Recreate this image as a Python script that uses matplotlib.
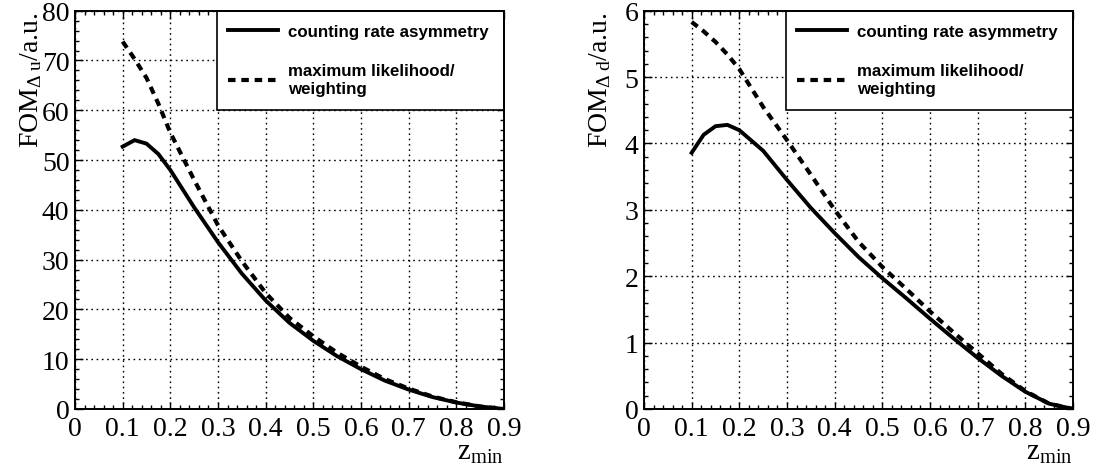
import matplotlib
matplotlib.use('Agg')
import matplotlib.pyplot as plt
from matplotlib.ticker import MultipleLocator, AutoMinorLocator
from matplotlib.patches import Rectangle

plt.rcParams['font.family'] = ['Liberation Serif', 'DejaVu Serif']
plt.rcParams['mathtext.fontset'] = 'custom'
plt.rcParams['mathtext.rm'] = 'Liberation Serif'
plt.rcParams['mathtext.it'] = 'Liberation Serif:italic'

# ---- data ----
z_min = [0.1, 0.125, 0.15, 0.175, 0.2, 0.25, 0.3, 0.35, 0.4, 0.45, 0.5,
         0.55, 0.6, 0.65, 0.7, 0.75, 0.8, 0.85, 0.9]

fom_u_counting = [52.7, 54.0, 53.3, 51.2, 48.0, 40.5, 33.5, 27.2, 21.8, 17.3, 13.7,
                  10.6, 8.0, 5.7, 3.9, 2.4, 1.3, 0.5, 0.0]
fom_u_ml = [73.8, 70.3, 66.5, 61.3, 55.5, 46.0, 36.9, 29.7, 23.3, 18.3, 14.6,
            11.3, 8.5, 6.0, 4.1, 2.5, 1.35, 0.5, 0.0]

fom_d_counting = [3.86, 4.13, 4.26, 4.28, 4.20, 3.89, 3.45, 3.03, 2.65, 2.29, 1.97,
                  1.67, 1.36, 1.06, 0.77, 0.50, 0.26, 0.08, 0.0]
fom_d_ml = [5.83, 5.69, 5.53, 5.34, 5.12, 4.55, 4.05, 3.53, 3.00, 2.52, 2.14,
            1.81, 1.47, 1.15, 0.84, 0.53, 0.27, 0.08, 0.0]

label_counting = 'counting rate asymmetry'
label_ml = 'maximum likelihood/\nweighting'

x_ticks = [0, 0.1, 0.2, 0.3, 0.4, 0.5, 0.6, 0.7, 0.8, 0.9]
x_ticklabels = ['0', '0.1', '0.2', '0.3', '0.4', '0.5', '0.6', '0.7', '0.8', '0.9']

panels = [
    dict(counting=fom_u_counting, ml=fom_u_ml, ymax=80, ystep=10,
         ylabel='FOM$_{\\mathrm{Δ\\ u}}$/a.u.'),
    dict(counting=fom_d_counting, ml=fom_d_ml, ymax=6, ystep=1,
         ylabel='FOM$_{\\mathrm{Δ\\ d}}$/a.u.'),
]

W, H = 1097, 477
fig = plt.figure(figsize=(W / 100, H / 100), dpi=100)
lefts = [75, 644]
ax_w, ax_top, ax_bot = 429, 11.7, 410
ax_h = ax_bot - ax_top

for left, p in zip(lefts, panels):
    ax = fig.add_axes([left / W, (H - ax_bot) / H, ax_w / W, ax_h / H])
    ax.plot(z_min, p['counting'], color='black', lw=2.8, solid_joinstyle='miter',
            label=label_counting, zorder=3)
    ax.plot(z_min, p['ml'], color='black', lw=3.0, ls=(0, (1.8, 1.4)),
            dash_capstyle='butt', label=label_ml, zorder=3)
    ax.set_xlim(0, 0.9)
    ax.set_ylim(0, p['ymax'])
    ax.set_xticks(x_ticks)
    ax.set_xticklabels(x_ticklabels)
    ax.xaxis.set_minor_locator(AutoMinorLocator(5))
    ax.yaxis.set_major_locator(MultipleLocator(p['ystep']))
    ax.yaxis.set_minor_locator(AutoMinorLocator(5))
    ax.tick_params(which='both', direction='in', top=True, right=True,
                   width=1.0, labelsize=20)
    ax.tick_params(which='major', length=5.4)
    ax.tick_params(which='minor', length=2.9)
    ax.tick_params(axis='x', pad=5)
    ax.tick_params(axis='y', pad=4)
    for s in ax.spines.values():
        s.set_linewidth(1.4)
        s.set_zorder(6)
    ax.grid(True, which='major', color='black', lw=1.0, ls=(0, (1.2, 2.6)), zorder=1)
    ax.set_xlabel('z$_{\\mathrm{min}}$', fontsize=21, loc='right')
    ax.xaxis.set_label_coords(1.0, -0.075)
    ax.set_ylabel(p['ylabel'], fontsize=20, loc='top')
    ax.yaxis.set_label_coords(-0.072, 1.0)

    # legend box (ROOT TLegend style)
    box_x0 = 0.332
    box_y0 = 1 - (110.7 - ax_top) / ax_h
    ax.add_patch(Rectangle((box_x0, box_y0), 1 - box_x0, 1 - box_y0,
                           transform=ax.transAxes, facecolor='white',
                           edgecolor='black', lw=1.2, zorder=4, clip_on=False))
    leg = ax.legend(loc='upper left',
                    bbox_to_anchor=(box_x0 + 11 / ax_w, 1 - 13 / ax_h),
                    borderaxespad=0, borderpad=0, frameon=False,
                    prop=dict(family='Liberation Sans', weight='bold', size=12.2),
                    handlelength=2.9, handletextpad=0.62, labelspacing=1.45)
    leg.set_zorder(5)

fig.savefig('out.png', dpi=100)
